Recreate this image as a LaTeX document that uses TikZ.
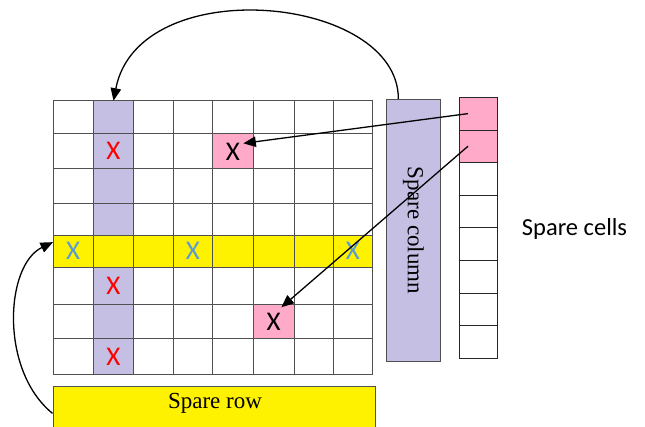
\documentclass[tikz,border=0pt]{standalone}
\usepackage{fontspec}
\setmainfont{Liberation Serif}
\newfontfamily\calib{Carlito}
\usetikzlibrary{arrows.meta}
\definecolor{lav}{RGB}{198,191,228}
\definecolor{yel}{RGB}{255,242,0}
\definecolor{pnk}{RGB}{255,170,200}
\definecolor{xblue}{RGB}{91,155,213}
\definecolor{gridc}{RGB}{80,80,80}
\tikzset{
  fillbox/.style={inner sep=0pt, outer sep=0pt, draw=none},
  mark x/.style={inner sep=0pt, font=\calib\fontsize{27}{30}\selectfont},
  sparecell/.style={draw=black!85, line width=0.7pt, inner sep=0pt,
    minimum width=38.4pt, minimum height=32.6pt},
  link/.style={draw=black, line width=1.3pt,
    -{Triangle[length=12.5pt,width=10.5pt]}},
  serif label/.style={inner sep=0pt, font=\fontsize{23}{27}\selectfont}
}
\begin{document}
\begin{tikzpicture}[x=1pt, y=-1pt]
  \useasboundingbox (0,0) rectangle (645,426);
  \clip (0,0) rectangle (645,426);

  % coloured column, row and cells of the array
  \node[fillbox, fill=lav, minimum width=40.4pt, minimum height=274pt]
    (pcol) at (113.5,237.7) {};
  \node[fillbox, fill=yel, minimum width=319.7pt, minimum height=32.3pt]
    (yrow) at (212.85,251.15) {};
  \node[fillbox, fill=pnk, minimum width=40.3pt, minimum height=34.7pt]
    (pinkA) at (232.85,150.65) {};
  \node[fillbox, fill=pnk, minimum width=40.7pt, minimum height=34.3pt]
    (pinkB) at (273.65,321.15) {};

  % grid lines
  \foreach \gx in {53,93.3,133.7,173.3,212.7,253.3,294,333.3,372.7}
    \draw[gridc, line width=0.9pt] (\gx,100.7) -- (\gx,374.7);
  \foreach \gy in {100.7,133.3,168,203,235,267.3,304,338.3,374.7}
    \draw[gridc, line width=0.9pt] (53,\gy) -- (372.7,\gy);

  % faulty cells
  \node[mark x, text=red] (r1) at (113.5,150.65) {X};
  \node[mark x, text=red] (r2) at (113.5,285.65) {X};
  \node[mark x, text=red] (r3) at (113.5,356.5) {X};
  \node[mark x, text=xblue] (b1) at (73.2,251.15) {X};
  \node[mark x, text=xblue] (b2) at (193,251.15) {X};
  \node[mark x, text=xblue] (b3) at (353,251.15) {X};
  \node[mark x, text=black] (k1) at (232.85,151.5) {X};
  \node[mark x, text=black] (k2) at (273.65,322) {X};

  % spare column
  \node[draw=gridc, line width=1pt, fill=lav, inner sep=0pt,
    minimum width=53.3pt, minimum height=262.4pt]
    (scol) at (413.35,230.5) {};
  \node[serif label, rotate=-90] (scoltext) at (413.35,230.5) {Spare column};

  % spare cells
  \foreach \k/\f in {1/pnk,2/pnk,3/white,4/white,5/white,6/white,7/white,8/white}
    \node[sparecell, fill=\f] (cell\k) at (478.5,{97.3+32.625*(\k-0.5)}) {};
  \node[anchor=base, inner sep=0pt, font=\calib\fontsize{24.5}{28}\selectfont]
    (celltext) at (574.5,235) {Spare cells};

  % spare row
  \node[draw=gridc, line width=1pt, fill=yel, inner sep=0pt,
    minimum width=322.5pt, minimum height=53.3pt]
    (srow) at (214.25,413.35) {};
  \node[serif label, anchor=base] (srowtext) at (215,408.3) {Spare row};

  % replacements
  \draw[link] ([xshift=-15pt]scol.north)
    .. controls +(0,-104) and +(25,-130) .. (pcol.north);
  \draw[link] (srow.west)
    .. controls +(-53,-43) and +(-48,23) .. ([yshift=9pt]yrow.west);
  \draw[link] ([xshift=-10.5pt]cell1.center)
    -- ([xshift=10.5pt,yshift=7.3pt]pinkA.center);
  \draw[link] ([xshift=-10.5pt]cell2.center)
    -- ([xshift=7.7pt,yshift=13.85pt]pinkB.center);
\end{tikzpicture}
\end{document}
